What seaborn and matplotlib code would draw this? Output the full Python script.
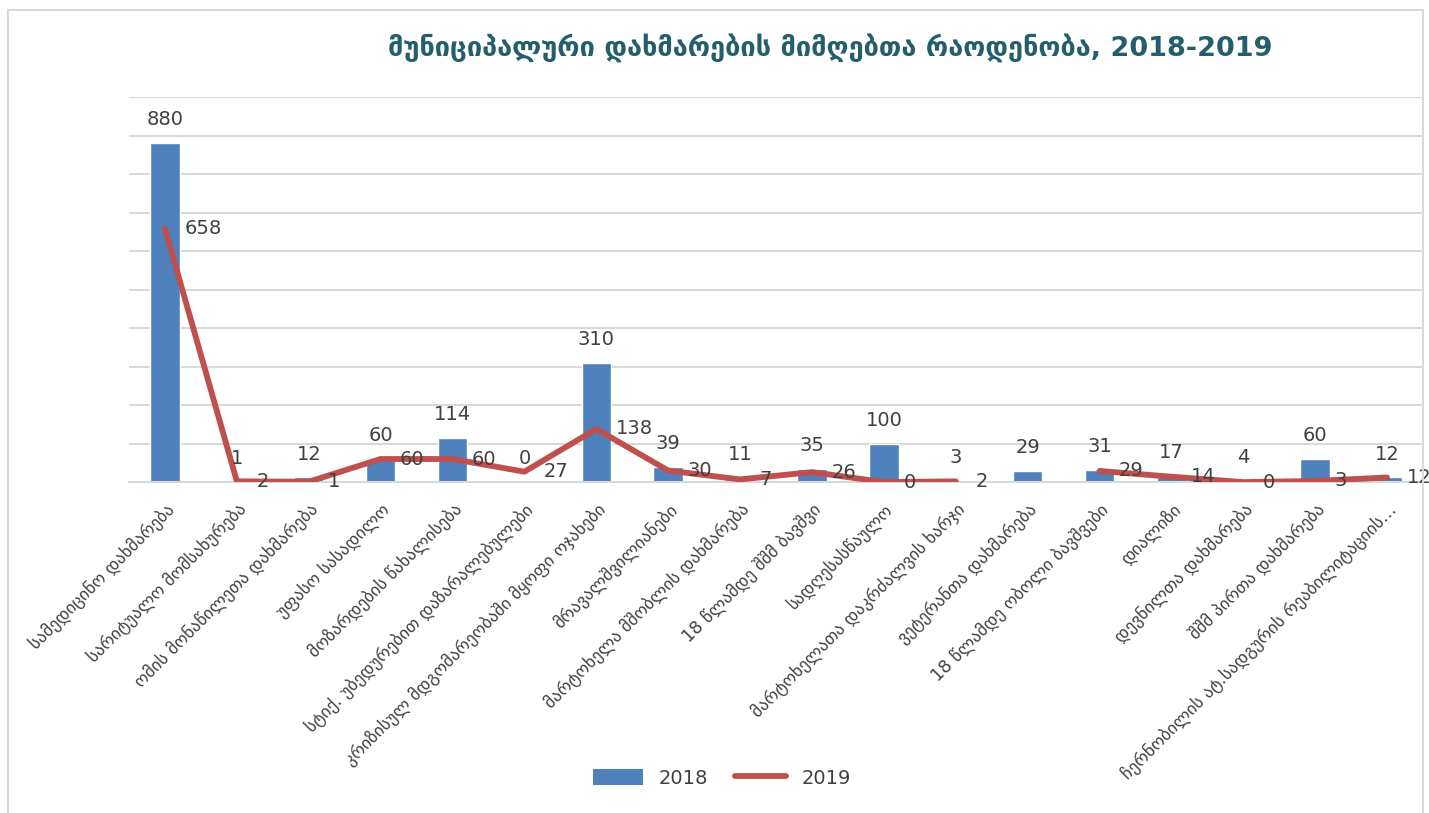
import numpy as np
import pandas as pd
import seaborn as sns
import matplotlib.pyplot as plt
from matplotlib.patches import Rectangle, Patch
from matplotlib.lines import Line2D

# კატეგორიები და მნიშვნელობები
categories = [
    "სამედიცინო დახმარება",
    "სარიტუალო მომსახურება",
    "ომის მონაწილეთა დახმარება",
    "უფასო სასადილო",
    "მოზარდების წახალისება",
    "სტიქ. უბედურებით დაზარალებულები",
    "კრიზისულ მდგომარეობაში მყოფი ოჯახები",
    "მრავალშვილიანები",
    "მარტოხელა მშობლის დახმარება",
    "18 წლამდე შშმ ბავშვი",
    "სადღესასწაულო",
    "მარტოხელათა დაკრძალვის ხარჯი",
    "ვეტერანთა დახმარება",
    "18 წლამდე ობოლი ბავშვები",
    "დიალიზი",
    "დევნილთა დახმარება",
    "შშმ პირთა დახმარება",
    "ჩერნობილის ატ.სადგურის რეაბილიტაციის…",
]
values_2018 = [880, 1, 12, 60, 114, 0, 310, 39, 11, 35, 100, 3, 29, 31, 17, 4, 60, 12]
values_2019 = [658, 2, 1, 60, 60, 27, 138, 30, 7, 26, 0, 2, np.nan, 29, 14, 0, 3, 12]

BAR_COLOR = "#4F81BD"
LINE_COLOR = "#C0504D"
TEXT_COLOR = "#404040"
GRID_COLOR = "#D9D9D9"
TITLE_COLOR = "#245E6D"

sns.set_style("white")
plt.rcParams["font.family"] = ["DejaVu Sans"]

df = pd.DataFrame({"cat": categories, "y2018": values_2018, "y2019": values_2019})
df["pos"] = np.arange(len(df))

fig = plt.figure(figsize=(14.29, 8.13), dpi=100, facecolor="white")
ax = fig.add_axes([0.0903, 0.407, 0.9055, 0.4737])

# სვეტები 2018
sns.barplot(data=df, x="cat", y="y2018", color=BAR_COLOR, width=0.41,
            saturation=1, ax=ax, zorder=2)

# ხაზი 2019 (წყვეტით ცარიელ მნიშვნელობაზე)
ax.plot(df["pos"], df["y2019"], color=LINE_COLOR, lw=4.2,
        solid_joinstyle="round", solid_capstyle="round", zorder=3)

ax.set_ylim(0, 1000)
ax.set_xlim(-0.5, len(df) - 0.5)
ax.set_yticks(np.arange(0, 1001, 100))
ax.set_yticklabels([])
ax.tick_params(axis="y", length=0)
ax.grid(axis="y", color=GRID_COLOR, lw=1.5, zorder=0)
ax.set_axisbelow(True)
for s in ["top", "right", "left"]:
    ax.spines[s].set_visible(False)
ax.spines["bottom"].set_color(GRID_COLOR)
ax.spines["bottom"].set_linewidth(1.5)
ax.set_xlabel("")
ax.set_ylabel("")

ax.set_xticks(df["pos"])
ax.set_xticklabels(categories, rotation=45, ha="right", rotation_mode="anchor",
                   fontsize=12.5, color=TEXT_COLOR)
ax.tick_params(axis="x", length=0, pad=13)

# მონაცემთა წარწერები
for p, v in zip(df["pos"], df["y2018"]):
    ax.annotate(f"{v:g}", (p, v), xytext=(0, 10), textcoords="offset points",
                ha="center", va="bottom", fontsize=14, color=TEXT_COLOR, zorder=5)
for p, v in zip(df["pos"], df["y2019"]):
    if np.isnan(v):
        continue
    ax.annotate(f"{v:g}", (p, v), xytext=(14, 0), textcoords="offset points",
                ha="left", va="center", fontsize=14, color=TEXT_COLOR, zorder=5)

fig.text(0.581, 0.941, "მუნიციპალური დახმარების მიმღებთა რაოდენობა, 2018-2019",
         ha="center", va="center", fontsize=19.5, fontweight="bold", color=TITLE_COLOR)

handles = [Patch(facecolor=BAR_COLOR, edgecolor="none"),
           Line2D([0], [0], color=LINE_COLOR, lw=4.2)]
fig.legend(handles, ["2018", "2019"], loc="center", bbox_to_anchor=(0.505, 0.043),
           ncol=2, frameon=False, fontsize=14, labelcolor=TEXT_COLOR,
           handlelength=2.6, handleheight=0.9, columnspacing=1.4)

# ჩარჩო
fig.patches.append(Rectangle((0.0056, -0.01), 0.9902, 1.0038 - 0.0062,
                             transform=fig.transFigure, fill=False,
                             edgecolor=GRID_COLOR, lw=1.5, zorder=0))

fig.savefig("out.png", dpi=100, facecolor="white")
